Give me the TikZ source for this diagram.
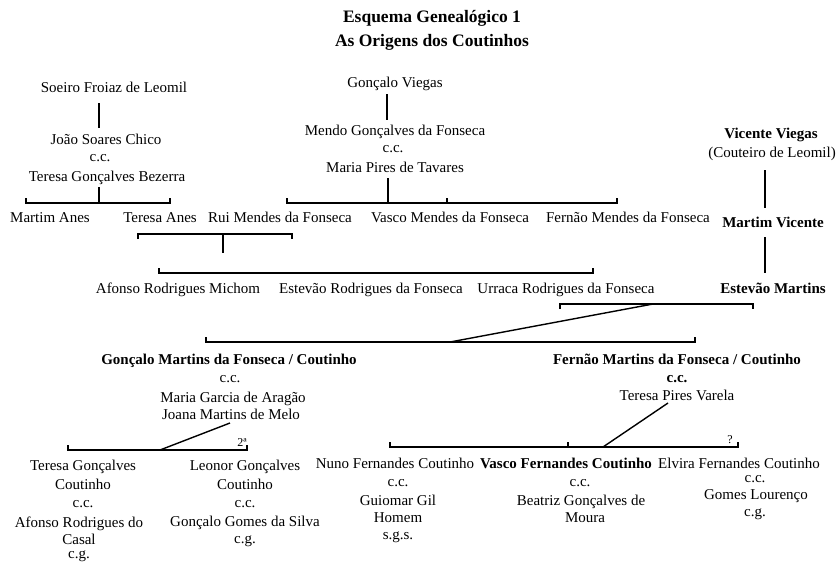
\documentclass[tikz,border=0pt]{standalone}
\usepackage{fontspec}
\setmainfont{Liberation Serif}
\begin{document}
\begin{tikzpicture}[x=1pt,y=-1pt,
  txt/.style={anchor=base, inner sep=0pt, font=\fontsize{15}{18}\selectfont},
  bld/.style={anchor=base, inner sep=0pt, font=\fontsize{15}{18}\selectfont\bfseries},
  ttl/.style={anchor=base, inner sep=0pt, font=\fontsize{17.5}{22}\selectfont\bfseries},
  sml/.style={anchor=base, inner sep=0pt, font=\fontsize{12}{14}\selectfont},
  ln/.style={line width=1.4pt}]
\useasboundingbox (0,0) rectangle (837,563);
% title
\node[ttl] (t1) at (432,22) {Esquema Genealógico 1};
\node[ttl] (t2) at (432,46) {As Origens dos Coutinhos};
% left top
\node[txt] (soeiro) at (114,92) {Soeiro Froiaz de Leomil};
\node[txt] (joao) at (106,144) {João Soares Chico};
\node[txt] (cc1) at (100,161) {c.c.};
\node[txt] (teresaGB) at (107,181) {Teresa Gonçalves Bezerra};
\coordinate (l1a) at (99,103); \coordinate (l1b) at (99,128);
\coordinate (l2a) at (99,187); \coordinate (l2b) at (99,203);
\draw[ln] (l1a) -- (l1b);
\draw[ln] (l2a) -- (l2b);
\coordinate (b1l) at (26,203); \coordinate (b1r) at (170,203);
\draw[ln] ([yshift=5pt]b1l) -- (b1l) -- (b1r) -- ([yshift=5pt]b1r);
\node[txt] (martimA) at (50,222) {Martim Anes};
\node[txt] (teresaA) at (160,222) {Teresa Anes};
% middle top
\node[txt] (goncaloV) at (395,87) {Gonçalo Viegas};
\coordinate (l3a) at (387,94); \coordinate (l3b) at (387,120);
\draw[ln] (l3a) -- (l3b);
\node[txt] (mendo) at (395,135) {Mendo Gonçalves da Fonseca};
\node[txt] (cc2) at (393,152) {c.c.};
\node[txt] (mariaPT) at (395,172) {Maria Pires de Tavares};
\coordinate (l4a) at (388,178); \coordinate (l4b) at (388,203);
\draw[ln] (l4a) -- (l4b);
\coordinate (b2l) at (287,203); \coordinate (b2m) at (447,203); \coordinate (b2r) at (617,203);
\draw[ln] ([yshift=5pt]b2l) -- (b2l) -- (b2r) -- ([yshift=5pt]b2r);
\draw[ln] (b2m) -- ([yshift=5pt]b2m);
\node[txt] (rui) at (280,222) {Rui Mendes da Fonseca};
\node[txt] (vascoM) at (450,222) {Vasco Mendes da Fonseca};
\node[txt] (fernaoM) at (628,222) {Fernão Mendes da Fonseca};
% right column
\node[bld] (vicente) at (771,138) {Vicente Viegas};
\node[txt] (couteiro) at (772,157) {(Couteiro de Leomil)};
\coordinate (l5a) at (765,170); \coordinate (l5b) at (765,208);
\draw[ln] (l5a) -- (l5b);
\node[bld] (martimV) at (773,227) {Martim Vicente};
\coordinate (l6a) at (765,237); \coordinate (l6b) at (765,273);
\draw[ln] (l6a) -- (l6b);
\node[bld] (estevaoM) at (773,293) {Estevão Martins};
% Teresa Anes + Rui Mendes
\coordinate (b3l) at (138,234); \coordinate (b3m) at (223,234); \coordinate (b3r) at (292,234);
\draw[ln] ([yshift=-5pt]b3l) -- (b3l) -- (b3r) -- ([yshift=-5pt]b3r);
\coordinate (l7b) at (223,253);
\draw[ln] (b3m) -- (l7b);
\coordinate (b4l) at (159,273); \coordinate (b4r) at (593,273);
\draw[ln] ([yshift=5pt]b4l) -- (b4l) -- (b4r) -- ([yshift=5pt]b4r);
\node[txt] (afonsoM) at (178,293) {Afonso Rodrigues Michom};
\node[txt] (estevaoR) at (371,293) {Estevão Rodrigues da Fonseca};
\node[txt] (urraca) at (566,293) {Urraca Rodrigues da Fonseca};
% Urraca + Estevao Martins
\coordinate (b5l) at (560,304); \coordinate (b5m) at (653,304); \coordinate (b5r) at (753,304);
\draw[ln] ([yshift=-5pt]b5l) -- (b5l) -- (b5r) -- ([yshift=-5pt]b5r);
\coordinate (b6l) at (206,342); \coordinate (b6m) at (450,342); \coordinate (b6r) at (695,342);
\draw[ln] (b5m) -- (b6m);
\draw[ln] ([yshift=5pt]b6l) -- (b6l) -- (b6r) -- ([yshift=5pt]b6r);
% Goncalo Martins
\node[bld] (goncaloM) at (229,364) {Gonçalo Martins da Fonseca / Coutinho};
\node[txt] (cc3) at (230,382) {c.c.};
\node[txt] (mariaGA) at (233,402) {Maria Garcia de Aragão};
\node[txt] (joana) at (231,419) {Joana Martins de Melo};
% Fernao Martins
\node[bld] (fernaoMa) at (677,364) {Fernão Martins da Fonseca / Coutinho};
\node[bld] (cc4) at (677,382) {c.c.};
\node[txt] (teresaPV) at (677,400) {Teresa Pires Varela};
% children of Goncalo
\coordinate (d1a) at (230,423); \coordinate (d1b) at (160,450);
\draw[ln] (d1a) -- (d1b);
\coordinate (b7l) at (68,450); \coordinate (b7r) at (247,450);
\draw[ln] ([yshift=5pt]b7l) -- (b7l) -- (b7r) -- ([yshift=5pt]b7r);
\node[sml] (seg) at (242,446) {2ª};
\node[txt] (teresaGC1) at (83,470) {Teresa Gonçalves};
\node[txt] (teresaGC2) at (83,489) {Coutinho};
\node[txt] (cc5) at (83,507) {c.c.};
\node[txt] (afonsoC1) at (79,527) {Afonso Rodrigues do};
\node[txt] (afonsoC2) at (79,544) {Casal};
\node[txt] (cg1) at (79,558) {c.g.};
\node[txt] (leonor1) at (245,470) {Leonor Gonçalves};
\node[txt] (leonor2) at (245,489) {Coutinho};
\node[txt] (cc6) at (245,507) {c.c.};
\node[txt] (goncaloG) at (245,526) {Gonçalo Gomes da Silva};
\node[txt] (cg2) at (245,543) {c.g.};
% children of Fernao
\coordinate (d2a) at (668,403); \coordinate (d2b) at (603,447);
\draw[ln] (d2a) -- (d2b);
\coordinate (b8l) at (390,447); \coordinate (b8m) at (568,447); \coordinate (b8r) at (738,447);
\draw[ln] ([yshift=5pt]b8l) -- (b8l) -- (b8r) -- ([yshift=5pt]b8r);
\draw[ln] (b8m) -- ([yshift=5pt]b8m);
\node[sml] (q) at (730,443) {?};
\node[txt] (nuno) at (395,468) {Nuno Fernandes Coutinho};
\node[txt] (cc7) at (398,486) {c.c.};
\node[txt] (guiomar1) at (398,505) {Guiomar Gil};
\node[txt] (guiomar2) at (398,522) {Homem};
\node[txt] (sgs) at (398,539) {s.g.s.};
\node[bld] (vascoF) at (566,468) {Vasco Fernandes Coutinho};
\node[txt] (cc8) at (580,486) {c.c.};
\node[txt] (beatriz1) at (581,505) {Beatriz Gonçalves de};
\node[txt] (beatriz2) at (585,522) {Moura};
\node[txt] (elvira) at (739,468) {Elvira Fernandes Coutinho};
\node[txt] (cc9) at (755,482) {c.c.};
\node[txt] (gomes) at (756,499) {Gomes Lourenço};
\node[txt] (cg3) at (755,516) {c.g.};
\end{tikzpicture}
\end{document}
